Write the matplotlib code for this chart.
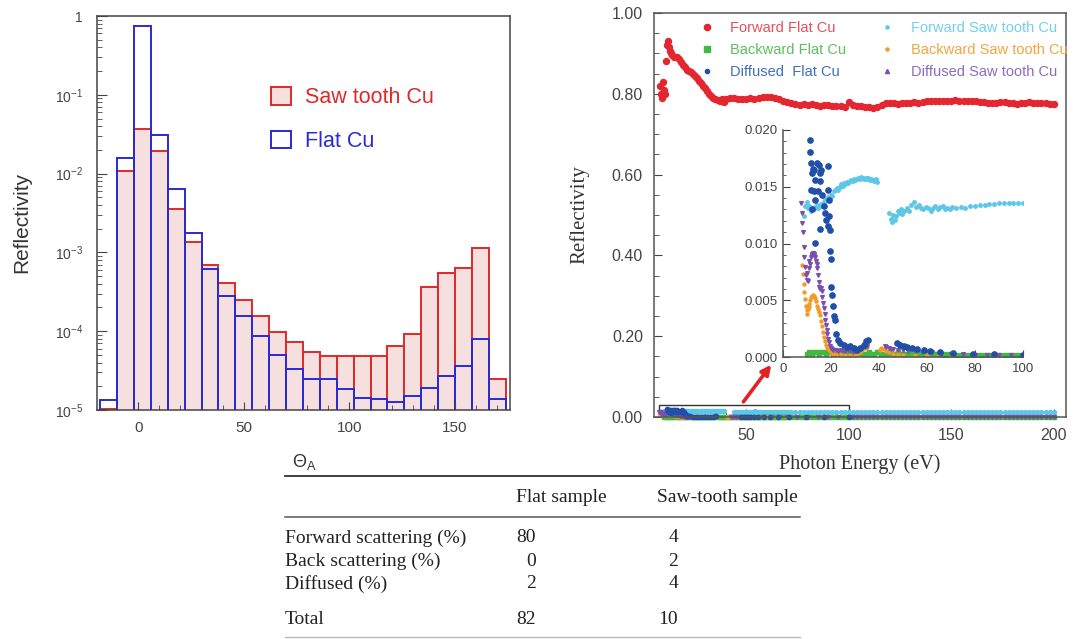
import numpy as np
import matplotlib.pyplot as plt
from matplotlib.lines import Line2D
from matplotlib.patches import Patch, Rectangle
from matplotlib.ticker import FuncFormatter, MultipleLocator, LogLocator, NullFormatter

W, H = 1077, 639

plt.rcParams['font.family'] = ['Liberation Sans', 'DejaVu Sans']
plt.rcParams['mathtext.default'] = 'regular'

# ---- angular distribution of reflected light ----
theta_edges = np.arange(-18, 175, 8)
saw_refl = [1.04e-5, 1.07e-2, 3.7e-2, 1.96e-2, 3.6e-3, 1.35e-3, 7.0e-4, 4.1e-4,
            2.5e-4, 1.57e-4, 9.7e-5, 7.4e-5, 5.4e-5, 4.8e-5, 4.8e-5, 4.8e-5,
            4.8e-5, 6.4e-5, 9.2e-5, 3.6e-4, 5.5e-4, 6.3e-4, 1.14e-3, 2.5e-5]
flat_refl = [1.34e-5, 1.6e-2, 0.75, 3.1e-2, 6.3e-3, 1.74e-3, 6.1e-4, 2.8e-4,
             1.57e-4, 8.6e-5, 5.0e-5, 3.3e-5, 2.5e-5, 2.5e-5, 1.85e-5, 1.42e-5,
             1.38e-5, 1.28e-5, 1.5e-5, 1.88e-5, 2.68e-5, 3.66e-5, 8.0e-5, 1.38e-5]

# ---- reflectivity vs photon energy ----
fwd_flat_e = [8, 8.5, 9, 9.5, 10, 10.5, 11, 11.5, 12, 12.5, 13, 13.5, 14, 15, 16,
              17, 18, 19, 20, 21, 22, 23, 24, 25, 26, 27, 28, 29, 30, 31, 32, 33,
              34, 35, 36, 37, 38, 39, 40] + list(range(42, 201, 2))
fwd_flat_r = [0.82, 0.80, 0.79, 0.83, 0.81, 0.80, 0.88, 0.92, 0.93, 0.915, 0.905,
              0.90, 0.895, 0.892, 0.89, 0.885, 0.878, 0.872, 0.866, 0.86, 0.857,
              0.853, 0.848, 0.843, 0.838, 0.832, 0.826, 0.82, 0.814, 0.806, 0.80,
              0.794, 0.79, 0.788, 0.785, 0.783, 0.786, 0.78, 0.788,
              0.79, 0.789, 0.788, 0.786, 0.787, 0.789, 0.788, 0.79, 0.791, 0.793,
              0.792, 0.79, 0.787, 0.783, 0.779, 0.776, 0.775, 0.773, 0.774, 0.773,
              0.774, 0.772, 0.771, 0.772, 0.772, 0.77, 0.769, 0.77, 0.768, 0.78,
              0.772, 0.77, 0.769, 0.767, 0.768, 0.766, 0.768, 0.772, 0.776, 0.778,
              0.776, 0.775, 0.776, 0.777, 0.778, 0.779, 0.778, 0.779, 0.781, 0.782,
              0.781, 0.783, 0.782, 0.783, 0.782, 0.784, 0.783, 0.782, 0.783, 0.782,
              0.781, 0.78, 0.779, 0.778, 0.777, 0.778, 0.779, 0.78, 0.778, 0.776,
              0.775, 0.776, 0.778, 0.779, 0.777, 0.776, 0.778, 0.776, 0.775, 0.775]

back_flat_e = list(range(10, 71)) + list(range(72, 201, 2))
back_flat_r = [0.0003, 0.0004, 0.0003, 0.0004, 0.0004, 0.0003, 0.0004, 0.0004, 0.0003, 0.0004,
               0.0004, 0.0003, 0.0003, 0.0004, 0.0003, 0.0003, 0.0004, 0.0003, 0.0003, 0.0004,
               0.0003, 0.0003, 0.0004, 0.0003, 0.0003, 0.0003, 0.0004, 0.0003, 0.0003, 0.0004,
               0.0004, 0.0003, 0.0003, 0.0003, 0.0004, 0.0003, 0.0003, 0.0003, 0.0004, 0.0003,
               0.0003, 0.0003, 0.0003, 0.0004, 0.0003, 0.0003, 0.0003, 0.0003, 0.0003, 0.0003,
               0.0003, 0.0003, 0.0003, 0.0003, 0.0003, 0.0003, 0.0002, 0.0003, 0.0002, 0.0003,
               0.0002,
               0.0002, 0.0002, 0.0002, 0.0002, 0.0002, 0.0002, 0.0002, 0.0002, 0.0002, 0.0002,
               0.0002, 0.0002, 0.0002, 0.0002, 0.0002,
               0.0001, 0.0001, 0.0001, 0.0001, 0.0001, 0.0001, 0.0001, 0.0001, 0.0001, 0.0001,
               0.0001, 0.0001, 0.0001, 0.0001, 0.0001, 0.0001, 0.0001, 0.0001, 0.0001, 0.0001,
               0.0001, 0.0001, 0.0001, 0.0001, 0.0001, 0.0001, 0.0001, 0.0001, 0.0001, 0.0001,
               0.0001, 0.0001, 0.0001, 0.0001, 0.0001, 0.0001, 0.0001, 0.0001, 0.0001, 0.0001,
               0.0001, 0.0001, 0.0001, 0.0001, 0.0001, 0.0001, 0.0001, 0.0001, 0.0001, 0.0001]

diff_flat_e = [11.4, 11.4, 11.8, 12.1, 12.5, 13.1, 13.5, 11.8, 12.8, 13.5, 12.1, 14.2,
               14.9, 15.3, 15.6, 16.0, 14.4, 16.3, 16.9, 17.6, 18.1, 13.5, 15.6, 18.6,
               18.6, 19.0, 19.0, 18.6, 19.4, 19.7, 20.0, 20.1, 20.4, 20.7, 21.1, 21.5,
               22.1, 22.8, 23.9, 25.3, 26.7, 28.1, 29.4, 30.8, 32.2, 33.6, 34.7, 35.4,
               47.5, 48.9, 50.3, 51.7, 53.8, 55.8, 58.6, 61.4, 65.6, 71, 79, 88, 100]
diff_flat_r = [0.0191, 0.0181, 0.0171, 0.0162, 0.0166, 0.0165, 0.0156, 0.0147, 0.0146,
               0.0138, 0.013, 0.0171, 0.0169, 0.0162, 0.0155, 0.0165, 0.0146, 0.0143,
               0.0133, 0.0127, 0.0121, 0.010, 0.0113, 0.0168, 0.0147, 0.0138, 0.0124,
               0.0115, 0.0112, 0.0093, 0.0086, 0.0062, 0.0055, 0.0045, 0.0036, 0.0033,
               0.002, 0.0015, 0.0012, 0.0011, 0.0009, 0.001, 0.0008, 0.0006, 0.0008,
               0.0011, 0.0014, 0.0015,
               0.0012, 0.0011, 0.001, 0.0009, 0.0008, 0.0007, 0.0006, 0.0005, 0.0004,
               0.00035, 0.0003, 0.00025, 0.0002]

fwd_saw_e = [8.6, 9.2, 9.8, 10.4, 11, 11.6, 12.2, 12.8, 13.4, 14, 14.6, 15.2, 15.8,
             16.4, 17, 17.6, 18.2, 18.8, 19.4, 20, 20.6, 21.2, 21.8, 22.4, 23, 23.6,
             24.2, 24.8, 25.4, 26, 26.6, 27.2, 27.8, 28.4, 29, 29.6, 30.2, 30.8, 31.4,
             32, 32.6, 33.2, 33.8, 34.4, 35, 35.6, 36.2, 36.8, 37.4, 38, 38.6, 39.2,
             44.2, 44.8, 45.4, 46, 46.6, 47.2, 47.8, 48.4, 49, 49.6, 50.5, 51.5, 52.5,
             53.5, 54.5, 55.5, 56.5, 57.5, 58.5, 59.5, 60.5, 61.5, 62.5, 63.5, 64.5,
             65.5, 66.5, 67.5, 68.5, 69.5, 70.5, 72, 74, 76, 78, 80, 82, 84, 86, 88,
             90, 92, 94, 96, 98, 100] + list(range(102, 201, 2))
fwd_saw_r = [0.0124, 0.0133, 0.0137, 0.0131, 0.0133, 0.0129, 0.0131, 0.013, 0.0132,
             0.0134, 0.0131, 0.0133, 0.0135, 0.0133, 0.0137, 0.0139, 0.0138, 0.0141,
             0.014, 0.0143, 0.0142, 0.0146, 0.0147, 0.0149, 0.0147, 0.015, 0.0152,
             0.0151, 0.0153, 0.0152, 0.0154, 0.0153, 0.0155, 0.0156, 0.0155, 0.0157,
             0.0156, 0.0157, 0.0158, 0.0157, 0.0159, 0.0158, 0.0157, 0.0158, 0.0157,
             0.0158, 0.0156, 0.0157, 0.0156, 0.0155, 0.0157, 0.0154,
             0.0127, 0.0122, 0.0119, 0.0125, 0.0121, 0.0124, 0.0129, 0.0127, 0.013,
             0.0126, 0.0129, 0.0131, 0.0129, 0.0134, 0.0137, 0.0132, 0.0134, 0.0131,
             0.013, 0.0132, 0.0131, 0.0129, 0.0131, 0.0133, 0.013, 0.0132, 0.0133,
             0.013, 0.0131, 0.013, 0.0132, 0.0131, 0.0132, 0.0131, 0.0133, 0.0133,
             0.0134, 0.0134, 0.0135, 0.0135, 0.0136, 0.0136, 0.0136, 0.0136, 0.0136,
             0.0136,
             0.0135, 0.0136, 0.0134, 0.0135, 0.0136, 0.0135, 0.0134, 0.0135, 0.0136, 0.0135,
             0.0134, 0.0135, 0.0135, 0.0136, 0.0135, 0.0134, 0.0135, 0.0136, 0.0135, 0.0134,
             0.0135, 0.0136, 0.0135, 0.0135, 0.0134, 0.0135, 0.0136, 0.0135, 0.0134, 0.0135,
             0.0135, 0.0136, 0.0135, 0.0134, 0.0135, 0.0136, 0.0135, 0.0134, 0.0135, 0.0136,
             0.0135, 0.0135, 0.0134, 0.0135, 0.0136, 0.0135, 0.0134, 0.0135, 0.0135, 0.0134]

back_saw_e = [8, 8.3, 8.6, 8.9, 9.2, 9.5, 9.8, 10.1, 10.4, 10.7, 11, 11.4, 11.8,
              12.2, 12.6, 13, 13.4, 13.8, 14.2, 14.6, 15, 15.4, 15.8, 16.2, 16.6, 17,
              17.5, 18, 18.5, 19, 20, 21, 22, 24, 26, 28, 30, 31, 32, 33, 34, 35,
              40.5, 41, 42, 43, 44, 46, 48, 50, 55, 60, 65, 70, 80, 90, 100]
back_saw_r = [0.0081, 0.0073, 0.0064, 0.0057, 0.0051, 0.0045, 0.0041, 0.0038, 0.0042,
              0.0044, 0.0047, 0.005, 0.0053, 0.0054, 0.0055, 0.0054, 0.0052, 0.0049,
              0.0045, 0.0042, 0.004, 0.0037, 0.0032, 0.0027, 0.0022, 0.0018, 0.0014,
              0.0011, 0.0008, 0.0006, 0.0004, 0.0003, 0.0003, 0.0003, 0.0002, 0.0002,
              0.0002, 0.0003, 0.0004, 0.0006, 0.0008, 0.0009,
              0.0006, 0.0008, 0.0007, 0.0005, 0.0004, 0.0003, 0.0003, 0.0002, 0.0002,
              0.0002, 0.0002, 0.0001, 0.0001, 0.0001, 0.0001]

diff_saw_e = [7.6, 7.8, 8, 8.3, 8.6, 8.9, 9.2, 9.5, 9.8, 10.1, 10.4, 10.7, 11, 11.3,
              11.6, 11.9, 12.2, 12.5, 12.8, 13.1, 13.4, 13.7, 14, 14.3, 14.6, 14.9,
              15.2, 15.5, 15.8, 16.1, 16.4, 16.7, 17, 17.3, 17.6, 17.9, 18.2, 18.5,
              18.8, 19.2, 19.6, 20, 20.5, 21, 22, 23, 24, 25, 26, 27, 28, 29, 30, 31,
              32, 33, 34, 35, 42.5, 43, 44, 45, 46, 48, 50, 52, 55, 58, 62, 66, 70, 75,
              80, 85, 90, 95, 100] + list(range(102, 201, 2))
diff_saw_r = [0.0136, 0.0127, 0.0118, 0.011, 0.0097, 0.0088, 0.0079, 0.0072, 0.0068,
              0.0074, 0.0067, 0.0078, 0.0085, 0.0082, 0.0088, 0.009, 0.0091, 0.0092,
              0.0091, 0.009, 0.0088, 0.0085, 0.0082, 0.0078, 0.0072, 0.0066, 0.0062,
              0.006, 0.0061, 0.0058, 0.0053, 0.0048, 0.0043, 0.0038, 0.0033, 0.0028,
              0.0024, 0.002, 0.0016, 0.0013, 0.001, 0.0008, 0.0007, 0.0006, 0.0006,
              0.0005, 0.0006, 0.0005, 0.0005, 0.0006, 0.0005, 0.0004, 0.0005, 0.0006,
              0.0007, 0.0008, 0.0009, 0.001,
              0.001, 0.0009, 0.0008, 0.0007, 0.0007, 0.0006, 0.0006, 0.0005, 0.0005,
              0.0004, 0.0004, 0.0003, 0.0003, 0.0003, 0.0002, 0.0002, 0.0002, 0.0002,
              0.0002,
              0.0002, 0.0002, 0.0002, 0.0002, 0.0002, 0.0002, 0.0002, 0.0002, 0.0002, 0.0002,
              0.0002, 0.0002, 0.0002, 0.0002, 0.0002, 0.0002, 0.0002, 0.0002, 0.0002, 0.0002,
              0.0002, 0.0002, 0.0002, 0.0002, 0.0002, 0.0002, 0.0002, 0.0002, 0.0002, 0.0002,
              0.0002, 0.0002, 0.0002, 0.0002, 0.0002, 0.0002, 0.0002, 0.0002, 0.0002, 0.0002,
              0.0002, 0.0002, 0.0002, 0.0002, 0.0002, 0.0002, 0.0002, 0.0002, 0.0002, 0.0002]

# ---- summary table ----
row_labels = ['Forward scattering (%)', 'Back scattering (%)', 'Diffused (%)', 'Total']
flat_pct = [80, 0, 2, 82]
saw_pct = [4, 2, 4, 10]


def fig_xy(x, y):
    return x / W, 1 - y / H


fig = plt.figure(figsize=(W / 100, H / 100), dpi=100)

# ================= left: histogram =================
ax1 = fig.add_axes([97 / W, 1 - 410 / H, 413 / W, 394 / H])
ax1.set_yscale('log')
red, blue = '#e02828', '#2a2ad6'
ax1.bar(theta_edges[:-1], saw_refl, width=np.diff(theta_edges), align='edge',
        facecolor='#f6dfdf', edgecolor=red, linewidth=1.4)
ax1.bar(theta_edges[:-1], flat_refl, width=np.diff(theta_edges), align='edge',
        facecolor='none', edgecolor=blue, linewidth=1.4)
ax1.set_xlim(-19.5, 176)
ax1.set_ylim(1e-5, 1)
ax1.xaxis.set_major_locator(MultipleLocator(50))
ax1.xaxis.set_minor_locator(MultipleLocator(10))
ax1.yaxis.set_major_locator(LogLocator(base=10, numticks=10))
ax1.yaxis.set_minor_locator(LogLocator(base=10, subs=np.arange(2, 10), numticks=20))
ax1.yaxis.set_minor_formatter(NullFormatter())
ax1.yaxis.set_major_formatter(FuncFormatter(
    lambda v, p: '1' if abs(v - 1) < 1e-9 else '$10^{%d}$' % round(np.log10(v))))
ax1.tick_params(which='both', direction='in', top=False, right=False, colors='#444444')
ax1.tick_params(axis='x', which='major', length=6, pad=8, labelsize=11)
ax1.tick_params(axis='y', which='major', length=7, pad=10, labelsize=10)
ax1.tick_params(which='minor', length=3.5)
for s in ax1.spines.values():
    s.set_color('#444444')
    s.set_linewidth(1.1)
ax1.set_ylabel('Reflectivity', fontsize=15, color='#333333')
ax1.yaxis.set_label_coords(-0.16, 0.475)
leg1 = ax1.legend(handles=[Patch(facecolor='#f6dfdf', edgecolor=red, lw=1.4, label='Saw tooth Cu'),
                           Patch(facecolor='white', edgecolor=blue, lw=1.4, label='Flat Cu')],
                  loc='upper left', bbox_to_anchor=(0.375, 0.868), frameon=False,
                  fontsize=15.5, handlelength=0.9, handleheight=0.85,
                  handletextpad=0.65, labelspacing=1.05)
leg1.get_texts()[0].set_color(red)
leg1.get_texts()[1].set_color(blue)
fig.text(*fig_xy(292, 462), r'$\Theta_A$', fontsize=13, color='#333333', va='center')

# ================= right: energy scan =================
c_red, c_green, c_blue = '#e3262f', '#3fb93f', '#1f4fa6'
c_cyan, c_orange, c_purple = '#5cc7e8', '#f49a28', '#7b4fae'

ax2 = fig.add_axes([654 / W, 1 - 417 / H, 412 / W, 404 / H])
low = dict(ls='none', clip_on=False)
ax2.plot(fwd_saw_e, fwd_saw_r, marker='o', ms=2.8, color=c_cyan, **low)
ax2.plot(back_flat_e, back_flat_r, marker='s', ms=2.6, color=c_green, **low)
ax2.plot(back_saw_e, back_saw_r, marker='o', ms=2.4, color=c_orange, **low)
ax2.plot(diff_saw_e, diff_saw_r, marker='v', ms=2.8, color=c_purple, **low)
ax2.plot(diff_flat_e, diff_flat_r, marker='o', ms=3.0, color=c_blue, **low)
ax2.plot(fwd_flat_e, fwd_flat_r, ls='none', marker='o', ms=4.3, color=c_red)
ax2.set_xlim(5, 206)
ax2.set_ylim(0, 1.0)
ax2.xaxis.set_major_locator(MultipleLocator(50))
ax2.xaxis.set_minor_locator(MultipleLocator(10))
ax2.yaxis.set_major_locator(MultipleLocator(0.2))
ax2.yaxis.set_minor_locator(MultipleLocator(0.05))
ax2.yaxis.set_major_formatter(FuncFormatter(lambda v, p: '%.2f' % abs(v)))
ax2.tick_params(which='both', direction='in', top=False, right=False, colors='#444444')
ax2.tick_params(which='major', length=6, pad=8, labelsize=11.5)
ax2.tick_params(which='minor', length=3.5)
for s in ax2.spines.values():
    s.set_color('#555555')
    s.set_linewidth(1.1)
ax2.set_xlabel('Photon Energy (eV)', family='Liberation Serif', fontsize=14.5,
               color='#333333', labelpad=8)
ax2.set_ylabel('Reflectivity', family='Liberation Serif', fontsize=15,
               color='#333333', labelpad=16)

handles = [
    Line2D([], [], ls='none', marker='o', ms=4.5, color=c_red, label='Forward Flat Cu'),
    Line2D([], [], ls='none', marker='s', ms=4.2, color=c_green, label='Backward Flat Cu'),
    Line2D([], [], ls='none', marker='o', ms=3, color=c_blue, label='Diffused  Flat Cu'),
    Line2D([], [], ls='none', marker='o', ms=2.2, color=c_cyan, label='Forward Saw tooth Cu'),
    Line2D([], [], ls='none', marker='o', ms=2.2, color=c_orange, label='Backward Saw tooth Cu'),
    Line2D([], [], ls='none', marker='^', ms=3, color=c_purple, label='Diffused Saw tooth Cu'),
]
leg2 = ax2.legend(handles=handles, ncol=2, loc='upper left', bbox_to_anchor=(0.083, 1.005),
                  frameon=False, fontsize=10.5, handlelength=1.2, handletextpad=1.0,
                  columnspacing=2.2, labelspacing=0.55, borderaxespad=0.3)
for t, c in zip(leg2.get_texts(), ['#e4505e', '#5cbf5c', '#3f6fc0', '#72cff0', '#f2a540', '#8a6cc2']):
    t.set_color(c)

# zoom box and arrow to the inset
ax2.add_patch(Rectangle((7.4, 0), 92.6, 0.030, fill=False, edgecolor='#333333', lw=1.0))
ax2.annotate('', xy=(63, 0.135), xytext=(47.8, 0.032),
             arrowprops=dict(arrowstyle='-|>', color='#e42222', lw=2.6, mutation_scale=14))

# inset: low reflectivity channels
ax3 = fig.add_axes([783 / W, 1 - 357 / H, 240 / W, 227 / H])
ax3.patch.set_alpha(0)
ax3.plot(fwd_saw_e, fwd_saw_r, ls='none', marker='o', ms=2.5, color=c_cyan)
ax3.plot(back_flat_e, back_flat_r, ls='none', marker='s', ms=2.3, color=c_green)
ax3.plot(back_saw_e, back_saw_r, ls='none', marker='o', ms=2.2, color=c_orange)
ax3.plot(diff_saw_e, diff_saw_r, ls='none', marker='v', ms=2.7, color=c_purple)
ax3.plot(diff_flat_e, diff_flat_r, ls='none', marker='o', ms=3.8, color=c_blue)
ax3.set_xlim(0, 100)
ax3.set_ylim(0, 0.020)
ax3.spines['top'].set_visible(False)
ax3.spines['right'].set_visible(False)
for s in ['left', 'bottom']:
    ax3.spines[s].set_color('#555555')
    ax3.spines[s].set_linewidth(1.1)
ax3.xaxis.set_major_locator(MultipleLocator(20))
ax3.xaxis.set_minor_locator(MultipleLocator(10))
ax3.yaxis.set_major_locator(MultipleLocator(0.005))
ax3.yaxis.set_minor_locator(MultipleLocator(0.001))
ax3.yaxis.set_major_formatter(FuncFormatter(lambda v, p: '%.3f' % v))
ax3.tick_params(which='both', direction='in', top=False, right=False, colors='#444444')
ax3.tick_params(which='major', length=5, pad=4, labelsize=9.5)
ax3.tick_params(which='minor', length=2.5)

# ================= bottom: summary table =================
serif = 'Liberation Serif'
tc = '#222222'
fig.add_artist(Line2D([285 / W, 800 / W], [1 - 476 / H] * 2, color='#333333', lw=1.3))
fig.add_artist(Line2D([285 / W, 800 / W], [1 - 517 / H] * 2, color='#555555', lw=1.1))
fig.add_artist(Line2D([285 / W, 800 / W], [1 - 637 / H] * 2, color='#bbbbbb', lw=1.0))
fig.text(*fig_xy(516, 497), 'Flat sample', family=serif, fontsize=14, color=tc, va='center')
fig.text(*fig_xy(657, 497), 'Saw-tooth sample', family=serif, fontsize=14, color=tc, va='center')
for label, a, b, y in zip(row_labels, flat_pct, saw_pct, [538, 561, 584, 620]):
    fig.text(*fig_xy(285, y), label, family=serif, fontsize=14, color=tc, va='center')
    fig.text(*fig_xy(536, y), str(a), family=serif, fontsize=14, color=tc, va='center', ha='right')
    fig.text(*fig_xy(678, y), str(b), family=serif, fontsize=14, color=tc, va='center', ha='right')

fig.savefig('out.png', dpi=100)
